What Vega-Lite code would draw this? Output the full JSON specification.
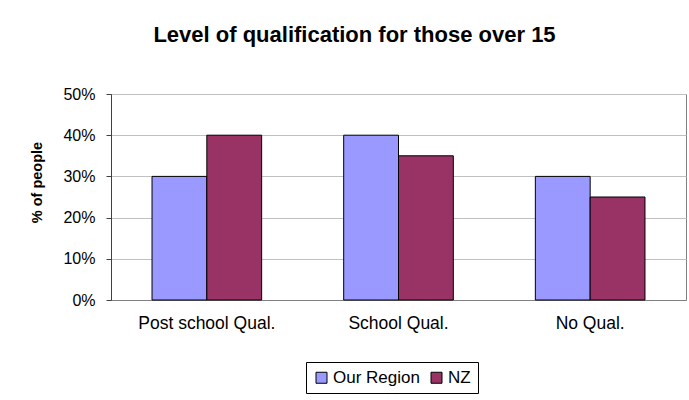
{
  "$schema": "https://vega.github.io/schema/vega-lite/v6.json",
  "width": 575,
  "height": 206,
  "padding": {"left": 29, "top": 24, "right": 5, "bottom": 5},
  "background": "white",
  "title": {
    "text": "Level of qualification for those over 15",
    "font": "Liberation Sans",
    "fontSize": 22,
    "fontWeight": "bold",
    "color": "black",
    "anchor": "middle",
    "dx": -44,
    "offset": 39
  },
  "config": {
    "view": {"stroke": "#808080", "strokeWidth": 1},
    "font": "Liberation Sans"
  },
  "data": {
    "values": [
      {"category": "Post school Qual.", "series": "Our Region", "value": 0.30},
      {"category": "Post school Qual.", "series": "NZ", "value": 0.40},
      {"category": "School Qual.", "series": "Our Region", "value": 0.40},
      {"category": "School Qual.", "series": "NZ", "value": 0.35},
      {"category": "No Qual.", "series": "Our Region", "value": 0.30},
      {"category": "No Qual.", "series": "NZ", "value": 0.25}
    ]
  },
  "mark": {"type": "bar", "stroke": "black", "strokeWidth": 1},
  "encoding": {
    "x": {
      "field": "category",
      "type": "nominal",
      "sort": ["Post school Qual.", "School Qual.", "No Qual."],
      "scale": {"paddingInner": 0.428, "paddingOuter": 0.214},
      "axis": {
        "title": null,
        "labelAngle": 0,
        "labelFontSize": 17.5,
        "labelColor": "black",
        "labelPadding": 14,
        "ticks": false,
        "domainColor": "#808080",
        "grid": false
      }
    },
    "xOffset": {
      "field": "series",
      "type": "nominal",
      "sort": ["Our Region", "NZ"],
      "scale": {"paddingInner": 0, "paddingOuter": 0}
    },
    "y": {
      "field": "value",
      "type": "quantitative",
      "scale": {"domain": [0, 0.5], "nice": false},
      "axis": {
        "title": "% of people",
        "titleFontSize": 14.5,
        "titleFontWeight": "bold",
        "titleColor": "black",
        "titlePadding": 18,
        "titleY": 88,
        "format": ".0%",
        "values": [0, 0.1, 0.2, 0.3, 0.4, 0.5],
        "labelFontSize": 16,
        "labelColor": "black",
        "labelPadding": 11,
        "tickSize": 5,
        "tickColor": "#404040",
        "domainColor": "#404040",
        "gridColor": "#c0c0c0",
        "gridWidth": 1
      }
    },
    "color": {
      "field": "series",
      "type": "nominal",
      "sort": ["Our Region", "NZ"],
      "scale": {"domain": ["Our Region", "NZ"], "range": ["#9999FF", "#993366"]},
      "legend": {
        "title": null,
        "orient": "none",
        "legendX": 195,
        "legendY": 268,
        "direction": "horizontal",
        "labelFontSize": 17,
        "labelColor": "black",
        "symbolType": "square",
        "symbolSize": 121,
        "symbolStrokeColor": "black",
        "symbolStrokeWidth": 1,
        "strokeColor": "black",
        "padding": 7,
        "columnPadding": 8,
        "labelOffset": 3
      }
    }
  }
}
